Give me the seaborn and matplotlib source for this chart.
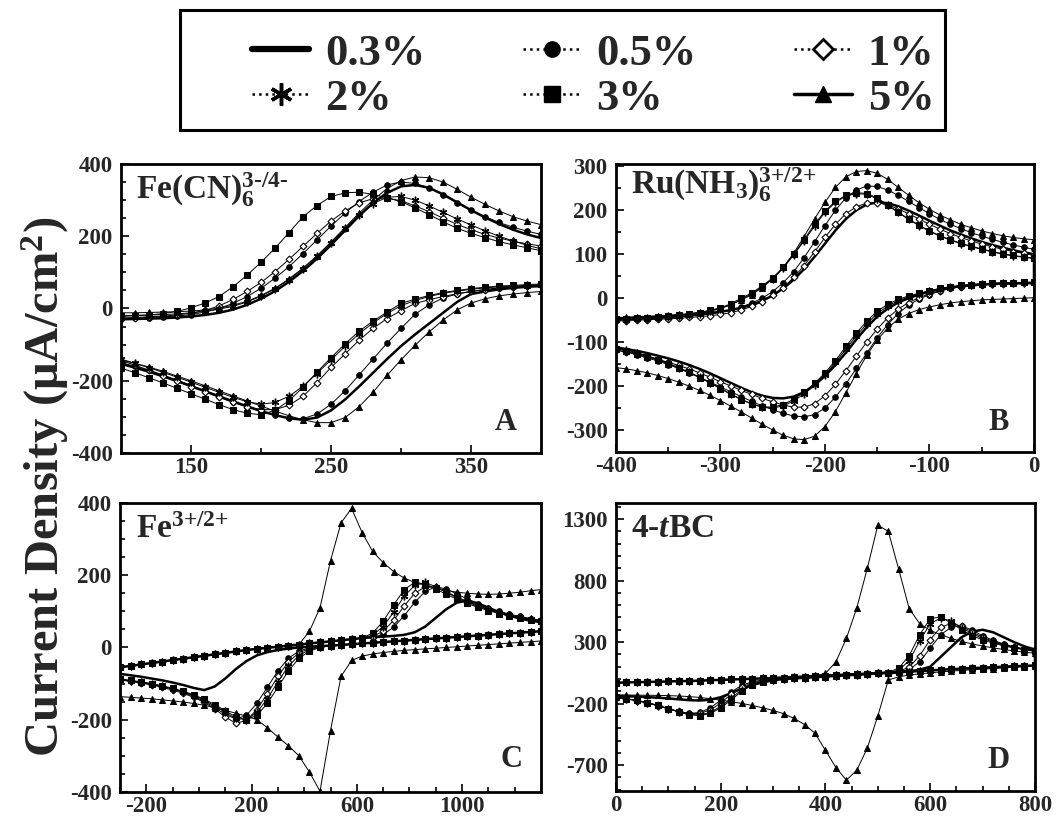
import matplotlib
matplotlib.use("Agg")
import matplotlib.pyplot as plt
from matplotlib.lines import Line2D
from matplotlib.patches import Rectangle
from matplotlib.ticker import MultipleLocator
import pandas as pd
import seaborn as sns

sns.set_style("ticks")
plt.rcParams['font.family'] = ['Liberation Serif', 'DejaVu Serif']
plt.rcParams['font.weight'] = 'bold'
plt.rcParams['axes.unicode_minus'] = False
plt.rcParams['mathtext.fontset'] = 'custom'
plt.rcParams['mathtext.rm'] = 'Liberation Serif:bold'
plt.rcParams['mathtext.it'] = 'Liberation Serif:italic:bold'
plt.rcParams['mathtext.bf'] = 'Liberation Serif:bold'

concs = ['0.3%', '0.5%', '1%', '2%', '3%', '5%']

# ---------------- panel A : Fe(CN)6 3-/4- ----------------
a_E = [100,110,120,130,140,150,160,170,180,190,200,210,220,230,240,250,
       260,270,280,290,300,310,320,330,340,350,360,370,380,390,400]
a_fwd_03 = [-30,-29,-28,-27,-25,-22,-18,-12,-3,10,27,48,74,104,138,176,216,256,292,320,338,342,334,316,294,272,252,234,218,205,195]
a_fwd_05 = [-28,-27,-25,-23,-21,-17,-10,0,14,33,56,84,116,152,190,228,264,296,322,342,350,346,334,314,292,272,254,238,225,214,205]
a_fwd_1 = [-26,-25,-23,-21,-18,-13,-5,7,25,47,72,102,136,172,208,242,270,292,304,306,298,284,268,250,233,218,205,195,186,179,173]
a_fwd_2 = [-20,-19,-18,-17,-15,-12,-8,-2,6,18,34,55,80,110,144,182,222,260,290,308,310,300,284,266,248,231,215,200,187,175,165]
a_fwd_3 = [-22,-20,-18,-14,-8,2,15,33,60,92,128,167,210,254,285,310,320,322,316,306,296,278,260,240,222,208,196,185,176,168,160]
a_fwd_5 = [-12,-12,-11,-10,-9,-7,-4,1,9,20,36,56,82,112,146,184,224,264,300,332,354,364,362,350,330,308,288,270,254,242,232]
# reverse scan, 400 -> 100
a_rev_03 = [62,60,57,53,47,40,18,-12,-42,-72,-104,-140,-178,-216,-252,-282,-302,-308,-304,-295,-284,-271,-257,-243,-229,-215,-201,-188,-175,-164,-153]
a_rev_05 = [64,62,60,57,53,47,40,29,10,-16,-55,-96,-140,-184,-228,-265,-292,-305,-304,-296,-285,-272,-258,-243,-228,-213,-198,-184,-171,-160,-150]
a_rev_1 = [64,62,59,56,52,47,41,33,24,14,-6,-28,-55,-88,-126,-163,-205,-243,-268,-280,-280,-272,-260,-246,-231,-216,-201,-186,-171,-157,-144]
a_rev_2 = [66,64,62,60,57,53,48,42,33,22,8,-14,-40,-70,-105,-142,-180,-215,-243,-260,-265,-258,-246,-232,-218,-204,-190,-177,-164,-152,-140]
a_rev_3 = [68,66,64,62,59,55,50,44,36,26,14,-10,-35,-63,-98,-136,-176,-218,-255,-282,-294,-290,-280,-266,-251,-236,-221,-206,-192,-178,-165]
a_rev_5 = [47,44,40,35,27,15,-4,-32,-65,-102,-142,-185,-232,-272,-302,-316,-316,-308,-297,-284,-270,-256,-242,-228,-214,-200,-187,-174,-162,-152,-143]

# ---------------- panel B : Ru(NH3)6 3+/2+ ----------------
b_E = [-400,-390,-380,-370,-360,-350,-340,-330,-320,-310,-300,-290,-280,-270,-260,-250,-240,-230,-220,-210,
       -200,-190,-180,-170,-160,-150,-140,-130,-120,-110,-100,-90,-80,-70,-60,-50,-40,-30,-20,-10,0]
b_fwd_03 = [-46,-45,-44,-43,-42,-41,-40,-38,-36,-34,-31,-27,-22,-15,-6,6,22,42,66,94,124,154,180,200,213,218,216,209,199,188,176,165,154,145,136,128,121,115,109,104,100]
b_fwd_05 = [-50,-49,-48,-47,-46,-45,-43,-41,-39,-36,-32,-27,-20,-11,0,15,35,60,92,128,165,200,228,246,255,254,246,234,220,206,192,179,168,158,149,141,134,127,121,116,111]
b_fwd_1 = [-52,-51,-50,-49,-48,-47,-46,-44,-42,-40,-37,-33,-27,-19,-8,6,24,47,74,105,138,168,192,208,216,217,212,203,192,180,168,157,147,138,130,123,117,111,106,102,98]
b_fwd_2 = [-50,-49,-48,-47,-45,-43,-41,-38,-35,-30,-24,-15,-3,10,26,44,68,98,130,164,195,218,232,238,236,226,211,195,179,165,152,141,132,124,117,111,105,100,96,93,90]
b_fwd_3 = [-48,-47,-46,-45,-43,-41,-39,-36,-33,-28,-22,-13,0,12,28,46,70,100,133,168,198,220,234,240,238,228,212,196,180,166,153,142,133,125,118,112,106,101,97,94,91]
b_fwd_5 = [-45,-44,-43,-42,-41,-39,-37,-35,-32,-28,-23,-15,-4,8,24,44,70,102,140,180,218,252,276,288,290,284,270,252,234,217,202,189,178,168,160,153,147,142,138,135,133]
# reverse scan, 0 -> -400
b_rev_03 = [34,34,33,33,32,31,29,27,24,20,15,8,0,-10,-24,-42,-66,-94,-124,-152,-177,-198,-214,-224,-228,-227,-222,-214,-204,-193,-182,-171,-161,-152,-144,-137,-131,-125,-120,-116,-112]
b_rev_05 = [36,36,35,34,33,31,29,26,22,16,8,-2,-16,-35,-60,-90,-125,-160,-195,-225,-250,-265,-270,-268,-262,-254,-245,-235,-224,-213,-202,-191,-180,-170,-160,-151,-143,-136,-129,-123,-118]
b_rev_1 = [35,35,34,33,32,31,29,26,22,17,10,1,-10,-25,-45,-70,-100,-132,-165,-196,-222,-240,-248,-248,-243,-236,-228,-219,-210,-200,-190,-180,-170,-161,-153,-146,-139,-133,-127,-122,-118]
b_rev_2 = [35,35,34,34,33,32,30,28,25,21,16,10,3,-6,-18,-35,-58,-86,-116,-146,-174,-198,-218,-234,-245,-250,-248,-241,-230,-218,-205,-192,-180,-168,-158,-148,-139,-131,-124,-118,-113]
b_rev_3 = [36,36,35,35,34,33,31,29,26,22,17,11,5,-3,-14,-30,-52,-80,-110,-142,-170,-194,-214,-230,-242,-248,-247,-241,-231,-219,-206,-193,-181,-169,-159,-149,-141,-133,-126,-120,-115]
b_rev_5 = [1,0,-1,-2,-3,-4,-6,-8,-11,-15,-20,-26,-35,-48,-68,-95,-130,-172,-215,-258,-292,-314,-322,-320,-312,-300,-287,-273,-259,-246,-233,-221,-210,-200,-191,-183,-176,-170,-165,-161,-158]

# ---------------- panel C : Fe 3+/2+ ----------------
c_E = [-300,-260,-220,-180,-140,-100,-60,-20,20,60,100,140,180,220,260,300,340,380,420,460,
       500,540,580,620,660,700,740,780,820,860,900,940,980,1020,1060,1100,1140,1180,1220,1260,1300]
c_base_f = [-55,-51,-47,-43,-39,-35,-31,-27,-23,-19,-15,-11,-7,-4,-1,2,5,8,11,14,17,20,23,26]
c_fwd_03 = c_base_f + [28,30,32,35,42,58,82,106,124,130,122,110,98,88,80,74,70]
c_fwd_05 = c_base_f + [28,36,56,88,125,155,168,162,148,134,121,110,100,92,86,80,75]
c_fwd_1 = c_base_f + [30,45,75,115,150,168,166,154,140,127,116,106,97,90,84,79,74]
c_fwd_2 = c_base_f + [34,58,98,142,172,180,168,152,138,125,114,104,96,89,83,78,73]
c_fwd_3 = c_base_f + [40,72,118,160,180,176,162,147,134,122,111,102,94,87,81,76,72]
c_fwd_5 = c_base_f[:18] + [45,110,240,345,385,318,266,235,210,192,180,172,165,158,153,150,148,147,148,150,153,157,160]
# reverse scan, 1300 -> -300
c_base_r = [45,43,41,39,37,35,33,31,29,27,25,23,21,19,17,15,13,11,9,7,5]
c_rev_03 = c_base_r + [4,2,0,-3,-7,-13,-22,-38,-60,-86,-108,-118,-112,-104,-97,-91,-86,-81,-77,-73]
c_rev_05 = c_base_r + [3,-1,-10,-30,-65,-110,-155,-188,-198,-185,-166,-149,-135,-124,-115,-108,-102,-97,-93,-89]
c_rev_1 = c_base_r + [2,-3,-15,-40,-80,-128,-172,-202,-210,-192,-170,-152,-138,-127,-118,-110,-104,-98,-94,-90]
c_rev_2 = c_base_r + [1,-6,-22,-52,-95,-142,-180,-200,-196,-180,-162,-146,-133,-123,-114,-107,-101,-96,-92,-88]
c_rev_3 = c_base_r + [0,-10,-30,-65,-110,-155,-188,-200,-192,-175,-158,-143,-131,-121,-113,-106,-100,-95,-91,-87]
c_rev_5 = [18,16,14,12,10,8,6,4,2,0,-2,-4,-6,-8,-11,-14,-18,-24,-36,-80,-230,-398,-345,-300,-272,-248,-222,-200,-190,-182,-174,-167,-160,-155,-151,-148,-145,-142,-140,-138,-136]

# ---------------- panel D : 4-tBC ----------------
d_E = [0,20,40,60,80,100,120,140,160,180,200,220,240,260,280,300,320,340,360,380,
       400,420,440,460,480,500,520,540,560,580,600,620,640,660,680,700,720,740,760,780,800]
d_base_f = [-30,-28,-26,-24,-22,-20,-18,-16,-13,-10,-7,-4,-1,2,5,8,12,16,20,24,28,32,36,40,44,48,52]
d_fwd_03 = d_base_f + [56,62,75,100,180,260,340,385,400,380,340,300,265,240]
d_fwd_05 = d_base_f + [58,78,140,250,360,420,432,398,352,314,285,262,245,232]
d_fwd_1 = d_base_f + [62,96,190,320,420,452,428,382,340,306,280,258,242,230]
d_fwd_2 = d_base_f + [72,150,310,450,495,470,418,368,330,300,276,256,240,228]
d_fwd_3 = d_base_f + [90,190,360,490,505,455,400,352,318,292,270,252,238,225]
d_fwd_5 = d_base_f[:20] + [45,140,330,580,900,1250,1200,890,570,450,395,360,330,305,285,268,253,240,228,218,210]
# reverse scan, 800 -> 0
d_base_r = [110,107,104,100,96,92,88,84,80,75,70,65,60,55,50,45,40,35,30,25,20,15,10,5,0]
d_rev_03 = d_base_r + [-10,-28,-48,-78,-115,-148,-168,-175,-172,-165,-158,-152,-147,-143,-140,-138]
d_rev_05 = d_base_r + [-3,-9,-22,-52,-105,-172,-235,-272,-280,-265,-242,-217,-195,-177,-161,-149]
d_rev_1 = d_base_r + [-4,-12,-30,-68,-125,-195,-252,-280,-282,-264,-240,-215,-193,-175,-160,-148]
d_rev_2 = d_base_r + [-6,-18,-42,-88,-155,-222,-272,-292,-288,-268,-242,-216,-194,-176,-161,-149]
d_rev_3 = d_base_r + [-8,-22,-50,-100,-170,-235,-280,-298,-290,-268,-240,-214,-192,-174,-160,-148]
d_rev_5 = [105,100,95,90,85,80,75,70,64,58,50,42,32,18,-8,-300,-560,-740,-822,-720,-580,-440,-370,-320,-282,-255,-234,-215,-198,-185,-172,-160,-150,-143,-138,-135,-133,-132,-131,-130,-130]


# plot styles per concentration
style = {
    '0.3%': dict(marker=None, linewidth=1.8),
    '0.5%': dict(marker='o', markersize=4, linewidth=0.7),
    '1%':   dict(marker='D', markersize=3.5, linewidth=0.7, markerfacecolor='white', markeredgewidth=0.8),
    '2%':   dict(marker=(6, 2, 0), markersize=5.5, linewidth=0.7, markeredgewidth=1.0),
    '3%':   dict(marker='s', markersize=4, linewidth=0.7),
    '5%':   dict(marker='^', markersize=4.2, linewidth=0.7),
}

hy = '\u2010'  # typographic hyphen, as in the original labels
panels = [
    dict(E=a_E, fwd=[a_fwd_03, a_fwd_05, a_fwd_1, a_fwd_2, a_fwd_3, a_fwd_5],
         rev=[a_rev_03, a_rev_05, a_rev_1, a_rev_2, a_rev_3, a_rev_5],
         rect=[0.1144, 0.4469, 0.3970, 0.3529], xlim=(100, 400), ylim=(-400, 400),
         xticks=[150, 250, 350], yticks=[-400, -200, 0, 200, 400], xminor=50, yminor=50,
         title='Fe(CN)$_6^{3' + hy + '/4' + hy + '}$', tpos=(0.035, 0.88), letter='A', lpos=(0.943, 0.08)),
    dict(E=b_E, fwd=[b_fwd_03, b_fwd_05, b_fwd_1, b_fwd_2, b_fwd_3, b_fwd_5],
         rev=[b_rev_03, b_rev_05, b_rev_1, b_rev_2, b_rev_3, b_rev_5],
         rect=[0.5822, 0.4481, 0.3951, 0.3516], xlim=(-400, 0), ylim=(-350, 305),
         xticks=[-400, -300, -200, -100, 0], yticks=[-300, -200, -100, 0, 100, 200, 300],
         xminor=50, yminor=50,
         title=r'Ru(NH$_3$)$_6^{3{+}/2{+}}$', tpos=(0.035, 0.895), letter='B', lpos=(0.94, 0.077)),
    dict(E=c_E, fwd=[c_fwd_03, c_fwd_05, c_fwd_1, c_fwd_2, c_fwd_3, c_fwd_5],
         rev=[c_rev_03, c_rev_05, c_rev_1, c_rev_2, c_rev_3, c_rev_5],
         rect=[0.1134, 0.0330, 0.3980, 0.3529], xlim=(-300, 1300), ylim=(-400, 400),
         xticks=[-200, 200, 600, 1000], yticks=[-400, -200, 0, 200, 400], xminor=100, yminor=50,
         title=r'Fe$^{3{+}/2{+}}$', tpos=(0.038, 0.879), letter='C', lpos=(0.955, 0.086)),
    dict(E=d_E, fwd=[d_fwd_03, d_fwd_05, d_fwd_1, d_fwd_2, d_fwd_3, d_fwd_5],
         rev=[d_rev_03, d_rev_05, d_rev_1, d_rev_2, d_rev_3, d_rev_5],
         rect=[0.5822, 0.0342, 0.3960, 0.3516], xlim=(0, 800), ylim=(-910, 1430),
         xticks=[0, 200, 400, 600, 800], yticks=[-700, -200, 300, 800, 1300], xminor=50, yminor=100,
         title=r'4-$t$BC', tpos=(0.036, 0.882), letter='D', lpos=(0.94, 0.08)),
]

fig = plt.figure(figsize=(10.58, 8.19), dpi=100)

for p in panels:
    ax = fig.add_axes(p['rect'])
    for conc, yf, yr in zip(concs, p['fwd'], p['rev']):
        df = pd.DataFrame({'E': p['E'] + p['E'][::-1], 'I': yf + yr})
        sns.lineplot(data=df, x='E', y='I', sort=False, estimator=None, ax=ax,
                     color='black', markeredgecolor='black', **style[conc])
    ax.set_xlim(p['xlim'])
    ax.set_ylim(p['ylim'])
    ax.set_xticks(p['xticks'])
    ax.set_yticks(p['yticks'])
    ax.xaxis.set_minor_locator(MultipleLocator(p['xminor']))
    ax.yaxis.set_minor_locator(MultipleLocator(p['yminor']))
    ax.set_xlabel('')
    ax.set_ylabel('')
    ax.tick_params(which='both', direction='in', top=False, right=False, width=1.4, labelsize=16.5)
    ax.tick_params(which='major', length=6)
    ax.tick_params(which='minor', length=3.5)
    ax.tick_params(axis='y', pad=6)
    ax.tick_params(axis='x', pad=3)
    for sp in ax.spines.values():
        sp.set_linewidth(2)
        sp.set_color('black')
    ax.text(p['tpos'][0], p['tpos'][1], p['title'], transform=ax.transAxes,
            fontsize=24, fontweight='bold', ha='left', va='baseline')
    ax.text(p['lpos'][0], p['lpos'][1], p['letter'], transform=ax.transAxes,
            fontsize=22, fontweight='bold', ha='right', va='baseline')

fig.text(0.043, 0.405, r'Current Density (μA/cm$^{2}$)', rotation=90,
         fontsize=35, fontweight='bold', ha='center', va='center')

# legend: column order gives rows 0.3/0.5/1 and 2/3/5
handles = [
    Line2D([], [], color='black', linewidth=4.5),
    Line2D([], [], color='black', linewidth=1.8, linestyle=':', marker=(6, 2, 0), markersize=16, markeredgewidth=2.5),
    Line2D([], [], color='black', linewidth=1.8, linestyle=':', marker='o', markersize=11),
    Line2D([], [], color='black', linewidth=1.8, linestyle=':', marker='s', markersize=11),
    Line2D([], [], color='black', linewidth=1.8, linestyle=':', marker='D', markersize=10,
           markerfacecolor='white', markeredgewidth=2),
    Line2D([], [], color='black', linewidth=2.5, marker='^', markersize=12),
]
labels = ['0.3%', '2%', '0.5%', '3%', '1%', '5%']
fig.legend(handles, labels, loc='center', bbox_to_anchor=(0.5605, 0.907), ncol=3,
           frameon=False, prop=dict(family='Liberation Serif', weight='bold', size=32),
           handlelength=1.3, handletextpad=0.35, columnspacing=2.2, labelspacing=0.1)
fig.add_artist(Rectangle((180 / 1058, 1 - 130 / 819), 765 / 1058, 120 / 819,
                         transform=fig.transFigure, fill=False, linewidth=2.2, edgecolor='black'))

fig.savefig('out.png', dpi=100)
